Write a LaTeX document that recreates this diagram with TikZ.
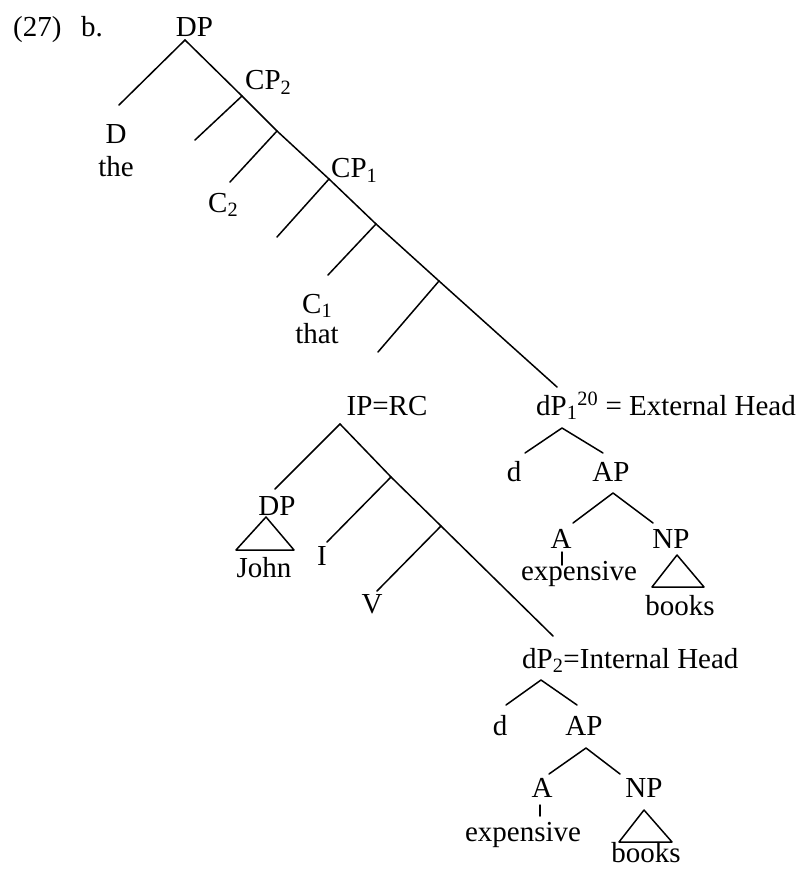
\documentclass[tikz,border=0pt]{standalone}
\usepackage{fontspec}
\setmainfont{Liberation Serif}
\begin{document}
\begin{tikzpicture}[x=1pt,y=-1pt,
  lbl/.style={inner sep=0pt,anchor=base,font=\fontsize{29}{34}\selectfont},
  lblw/.style={lbl,anchor=base west},
  edge/.style={line width=1.5pt,line cap=round,line join=round}]
\useasboundingbox (0,0) rectangle (796,869);
% ---------- labels ----------
\node[lblw] (ex) at (13,37) {(27)};
\node[lblw] (exb) at (81,37) {b.};
\node[lbl] (DP) at (194.5,37) {DP};
\node[lblw] (CPb) at (245,90) {CP\textsubscript{2}};
\node[lbl] (D) at (116,144) {D};
\node[lbl] (the) at (116,177) {the};
\node[lblw] (Cb) at (208,212) {C\textsubscript{2}};
\node[lblw] (CPa) at (331,178) {CP\textsubscript{1}};
\node[lblw] (Ca) at (302,313) {C\textsubscript{1}};
\node[lbl] (that) at (317,343) {that};
\node[lbl] (IP) at (387,415) {IP=RC};
\node[lblw] (dPa) at (536,415) {dP\textsubscript{1}\textsuperscript{20} = External Head};
\node[lbl] (da) at (514,481) {d};
\node[lbl] (APa) at (611,481) {AP};
\node[lbl] (Aa) at (561,548) {A};
\node[lbl] (NPa) at (671,548) {NP};
\node[lbl] (expa) at (579,580) {expensive};
\node[lbl] (booksa) at (680,615) {books};
\node[lbl] (DPj) at (277,515) {DP};
\node[lbl] (John) at (264,577) {John};
\node[lbl] (I) at (322,565) {I};
\node[lbl] (V) at (372,613) {V};
\node[lblw] (dPb) at (522,668) {dP\textsubscript{2}=Internal Head};
\node[lbl] (db) at (500,735) {d};
\node[lbl] (APb) at (584,735) {AP};
\node[lbl] (Ab) at (542,797) {A};
\node[lbl] (NPb) at (644,797) {NP};
\node[lbl] (expb) at (523,841) {expensive};
\node[lbl] (booksb) at (646,862) {books};
% ---------- points ----------
\coordinate (s0) at (185,40);
\coordinate (s1) at (242,96);
\coordinate (s2) at (277,131);
\coordinate (s3) at (329,179);
\coordinate (s4) at (376,224);
\coordinate (s5) at (439,281);
\coordinate (s6) at (557,387);
\coordinate (l0) at (119,105);
\coordinate (l1) at (195,140);
\coordinate (l2) at (230,182);
\coordinate (l3) at (277,237);
\coordinate (l4) at (328,275);
\coordinate (l5) at (378,352);
\coordinate (i0) at (340,424);
\coordinate (i1) at (391,477);
\coordinate (i2) at (441,526);
\coordinate (i3) at (553,636);
\coordinate (il0) at (275,489);
\coordinate (il1) at (327,542);
\coordinate (il2) at (377,591);
\coordinate (jt) at (266,517);
\coordinate (jl) at (236,550);
\coordinate (jr) at (294,550);
\coordinate (pa) at (562,428);
\coordinate (pal) at (525,453);
\coordinate (par) at (603,453);
\coordinate (aa) at (613,493);
\coordinate (aal) at (573,523);
\coordinate (aar) at (653,523);
\coordinate (ta1) at (562,552);
\coordinate (ta2) at (562,565);
\coordinate (na) at (677,555);
\coordinate (nal) at (652,587);
\coordinate (nar) at (704,587);
\coordinate (pb) at (541,680);
\coordinate (pbl) at (506,705);
\coordinate (pbr) at (577,705);
\coordinate (ab) at (586,748);
\coordinate (abl) at (549,774);
\coordinate (abr) at (620,774);
\coordinate (tb1) at (540,805);
\coordinate (tb2) at (540,816);
\coordinate (nb) at (644,810);
\coordinate (nbl) at (619,842);
\coordinate (nbr) at (672,842);
% ---------- edges ----------
\draw[edge] (s0) -- (s1) -- (s2) -- (s3) -- (s4) -- (s5) -- (s6);
\draw[edge] (s0) -- (l0);
\draw[edge] (s1) -- (l1);
\draw[edge] (s2) -- (l2);
\draw[edge] (s3) -- (l3);
\draw[edge] (s4) -- (l4);
\draw[edge] (s5) -- (l5);
\draw[edge] (i0) -- (i1) -- (i2) -- (i3);
\draw[edge] (i0) -- (il0);
\draw[edge] (i1) -- (il1);
\draw[edge] (i2) -- (il2);
\draw[edge] (jt) -- (jl) -- (jr) -- cycle;
\draw[edge] (pal) -- (pa) -- (par);
\draw[edge] (aal) -- (aa) -- (aar);
\draw[edge] (ta1) -- (ta2);
\draw[edge] (na) -- (nal) -- (nar) -- cycle;
\draw[edge] (pbl) -- (pb) -- (pbr);
\draw[edge] (abl) -- (ab) -- (abr);
\draw[edge] (tb1) -- (tb2);
\draw[edge] (nb) -- (nbl) -- (nbr) -- cycle;
\end{tikzpicture}
\end{document}
